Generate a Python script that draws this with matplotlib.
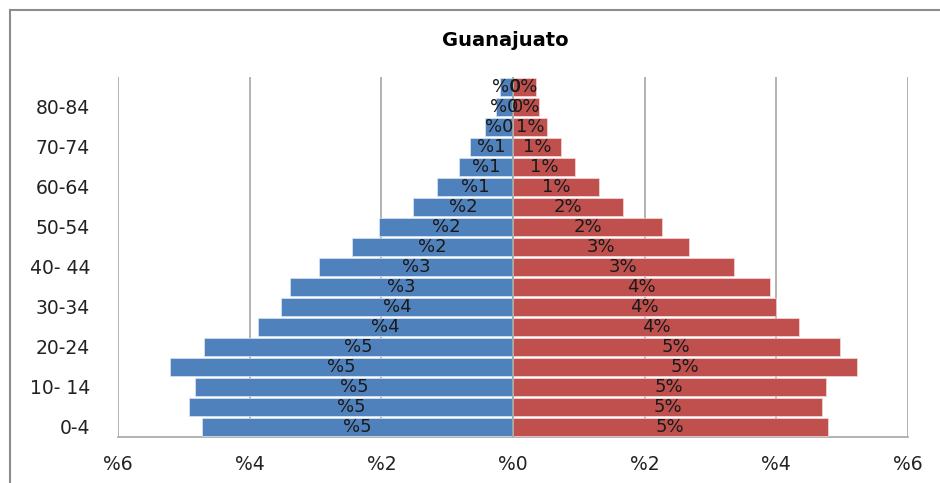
import numpy as np
import matplotlib.pyplot as plt
from matplotlib.lines import Line2D

# ===============================
# DATA (percent of population)
# ===============================
age_groups = ["0-4", "5-9", "10- 14", "15-19", "20-24", "25-29", "30-34", "35-39",
              "40- 44", "45-49", "50-54", "55-59", "60-64", "65-69", "70-74",
              "75-79", "80-84", "85+"]
men = [4.72, 4.92, 4.83, 5.21, 4.70, 3.87, 3.52, 3.38, 2.94, 2.44, 2.04,
       1.52, 1.16, 0.82, 0.65, 0.43, 0.26, 0.20]
women = [4.78, 4.69, 4.75, 5.22, 4.96, 4.35, 4.00, 3.91, 3.35, 2.68, 2.27,
         1.67, 1.31, 0.94, 0.73, 0.52, 0.40, 0.35]
x_ticks = [-6, -4, -2, 0, 2, 4, 6]
x_tick_labels = ["%6", "%4", "%2", "%0", "%2", "%4", "%6"]

blue = "#4F81BD"
red = "#C0504D"
grid_col = "#A6A6A6"

plt.rcParams['font.family'] = ['DejaVu Sans']

fig = plt.figure(figsize=(9.4, 4.83), dpi=100)
ax = fig.add_axes([118 / 940, 1 - 437 / 483, 790 / 940, 360 / 483])
ax.set_axisbelow(True)

y = np.arange(len(age_groups))
ax.barh(y, -np.array(men), height=0.86, color=blue, edgecolor="#DCE6F2", linewidth=0.5, zorder=3)
ax.barh(y, women, height=0.86, color=red, edgecolor="#F2DCDB", linewidth=0.5, zorder=3)

# bar labels in the centre of each bar
for i in range(len(age_groups)):
    ax.text(-men[i] / 2, y[i], "%" + str(int(round(men[i]))), ha="center", va="center",
            fontsize=13, color="#1a1a1a", zorder=4)
    ax.text(women[i] / 2, y[i], str(int(round(women[i]))) + "%", ha="center", va="center",
            fontsize=13, color="#1a1a1a", zorder=4)

ax.set_xlim(-6, 6)
ax.set_ylim(-0.5, len(age_groups) - 0.5)
ax.set_xticks(x_ticks)
ax.set_xticklabels(x_tick_labels, fontsize=13.5, color="#222222")
ax.set_yticks(y[::2])
ax.set_yticklabels(age_groups[::2], fontsize=13.5, color="#222222")
ax.tick_params(axis="x", length=0, pad=13)
ax.tick_params(axis="y", length=0, pad=20)

ax.grid(axis="x", color=grid_col, linewidth=1.2)
for s in ["top", "right", "left"]:
    ax.spines[s].set_visible(False)
ax.spines["bottom"].set_color(grid_col)
ax.spines["bottom"].set_linewidth(1.2)
ax.axvline(0, color=grid_col, linewidth=1.2, zorder=3.5)

fig.text(505 / 940, 1 - 40 / 483, "Guanajuato", ha="center", va="center",
         fontsize=14, fontweight="bold")

# outer chart frame
fig.add_artist(Line2D([10 / 940, 10 / 940], [0, 1 - 10 / 483], transform=fig.transFigure,
                      color="#8C8C8C", linewidth=1.5))
fig.add_artist(Line2D([10 / 940, 1], [1 - 10 / 483, 1 - 10 / 483], transform=fig.transFigure,
                      color="#8C8C8C", linewidth=1.5))

fig.savefig("out.png", dpi=100)
